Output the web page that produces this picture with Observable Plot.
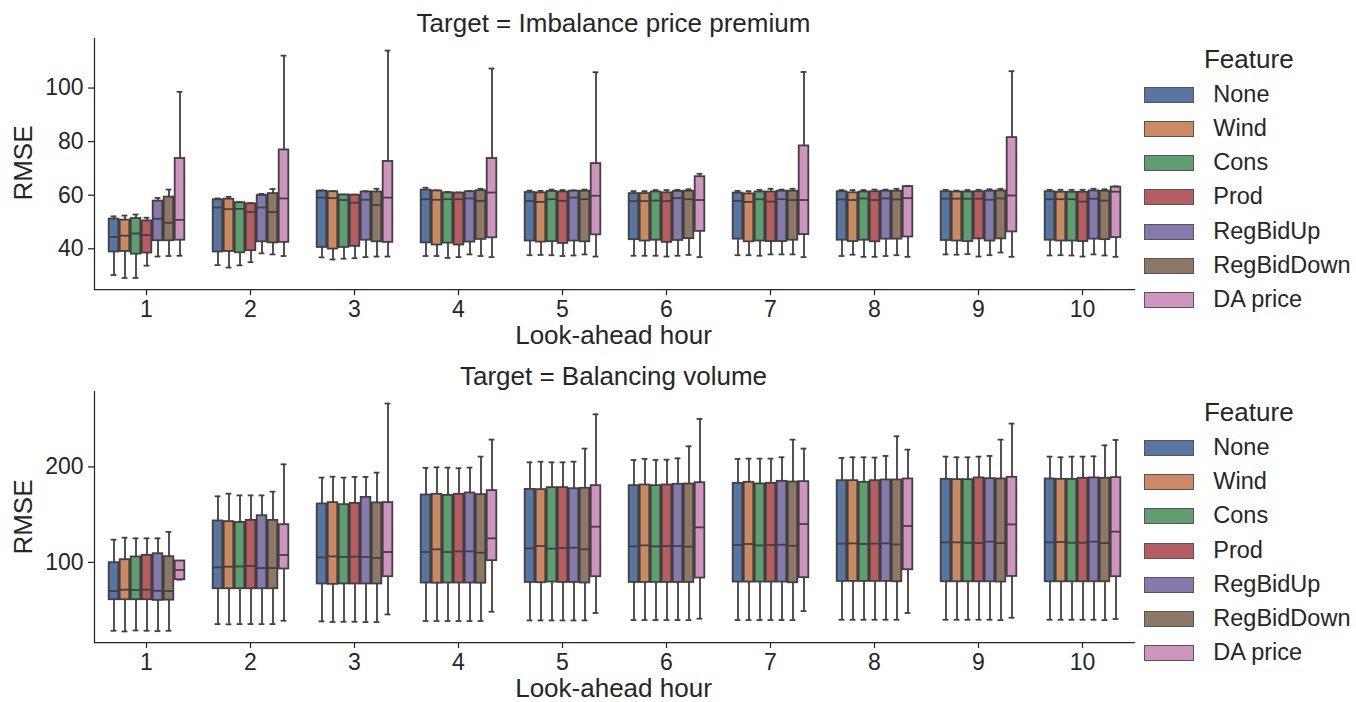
<!DOCTYPE html>
<html><head><meta charset="utf-8">
<script src="https://cdn.jsdelivr.net/npm/d3@7"></script>
<script src="https://cdn.jsdelivr.net/npm/@observablehq/plot@0.6"></script>
<style>
body{margin:0;background:#fff;font-family:"Liberation Sans",Arial,sans-serif;color:#262626;}
#root{position:relative;width:1356px;height:702px;overflow:hidden;background:#fff;}
.panel{position:absolute;left:0;width:1356px;}
.t{position:absolute;line-height:1;white-space:nowrap;transform:translate(-50%,-50%);}
.tl{position:absolute;line-height:1;white-space:nowrap;transform:translate(0,-50%);}
.sw{position:absolute;width:50px;height:16px;box-sizing:border-box;border:1px solid #555;transform:translate(0,-50%);}
</style></head>
<body><div id="root"></div>
<script>
const hours = [1,2,3,4,5,6,7,8,9,10];
const features = ["None","Wind","Cons","Prod","RegBidUp","RegBidDown","DA price"];
const colors = ["#5875A4","#CC8963","#5F9E6E","#B55D60","#857AAB","#8D7866","#D095BF"];
const panelTitles = ["Target = Imbalance price premium","Target = Balancing volume"];
const yTicksImb = [40,60,80,100];
const yTicksBal = [100,200];
const yDomainImb = [24.8,118.5];
const yDomainBal = [16.1,279];

// Imbalance price premium: rows = look-ahead hour, columns = features
const imbLo = [
 [30.2,29.1,29.1,33.7,37.1,37.3,37.4],
 [33.9,33.0,33.8,35.0,38.3,37.9,37.3],
 [36.8,36.0,36.3,36.5,36.9,37.1,37.1],
 [37.3,37.3,36.6,36.9,37.9,37.3,36.9],
 [37.6,37.7,37.6,37.3,37.5,37.9,37.1],
 [37.4,37.4,37.4,37.1,37.4,37.7,36.9],
 [37.6,37.6,37.4,37.9,37.9,37.9,36.9],
 [37.3,37.8,37.0,37.0,37.3,37.6,37.0],
 [37.9,37.8,38.0,37.1,37.6,38.6,37.0],
 [37.5,37.6,37.5,37.1,37.9,37.5,37.0]];
const imbQ1 = [
 [38.8,39.0,38.0,38.4,43.0,43.0,43.2],
 [38.8,39.0,38.5,39.3,42.6,42.2,42.4],
 [40.5,39.9,40.5,40.9,43.2,42.6,42.4],
 [42.2,41.4,42.1,41.4,42.5,43.5,44.1],
 [42.9,42.5,42.7,42.0,42.9,42.6,45.2],
 [43.4,42.9,43.2,42.4,43.1,43.8,46.5],
 [43.6,42.6,42.9,42.7,42.7,43.2,45.3],
 [43.2,42.7,43.2,42.6,43.6,43.6,44.4],
 [43.1,42.9,42.7,43.7,42.9,43.7,46.3],
 [43.2,42.9,42.9,42.7,43.6,43.4,44.2]];
const imbMed = [
 [44.4,44.9,45.7,45.1,51.2,49.7,50.8],
 [55.4,54.8,54.9,53.7,55.4,53.7,58.8],
 [59.1,58.9,58.2,57.2,58.3,56.3,59.1],
 [58.5,58.3,58.5,58.5,58.8,57.9,61.0],
 [57.8,57.5,58.5,57.9,59.1,58.5,59.8],
 [57.8,57.8,58.0,57.8,58.9,58.5,58.2],
 [57.9,57.5,58.5,57.6,58.5,58.2,58.2],
 [58.4,58.2,58.8,58.2,58.8,58.4,58.9],
 [58.7,58.7,58.7,58.7,58.3,58.8,59.9],
 [58.5,58.5,58.5,57.6,58.7,58.0,61.3]];
const imbQ3 = [
 [51.1,50.7,51.3,50.4,57.8,59.3,73.7],
 [58.3,58.5,57.2,56.8,59.9,60.6,76.9],
 [61.5,61.3,60.1,60.0,61.2,61.2,72.6],
 [61.9,61.6,60.9,60.8,61.3,61.7,73.7],
 [61.0,60.9,61.4,61.2,61.5,61.5,71.8],
 [60.6,60.6,61.2,60.9,61.4,61.5,66.9],
 [60.8,60.5,61.2,61.2,61.5,61.5,78.4],
 [61.3,60.9,61.2,61.3,61.5,61.5,63.2],
 [61.3,61.2,61.2,61.3,61.5,61.6,81.5],
 [61.3,61.1,61.1,61.1,61.6,61.5,63.0]];
const imbHi = [
 [52.1,52.4,52.8,51.6,59.0,62.1,98.6],
 [58.8,59.4,57.4,57.0,60.5,62.3,112.1],
 [61.8,61.5,60.2,60.2,61.5,62.4,114.0],
 [62.8,61.8,61.2,61.0,61.6,62.4,107.3],
 [61.7,61.6,62.1,61.9,61.8,62.1,105.9],
 [61.5,61.5,61.9,61.9,62.0,62.2,68.0],
 [61.6,61.5,62.0,62.4,62.1,62.4,106.0],
 [61.9,61.9,61.9,62.1,62.1,62.4,63.5],
 [62.0,61.7,61.9,62.0,62.2,62.4,106.3],
 [62.0,62.0,62.0,62.0,62.4,62.2,63.3]];

// Balancing volume
const balLo = [
 [28.4,27.7,28.7,28.4,28.0,28.4,81.9],
 [35.4,35.1,35.4,35.4,35.4,35.4,38.9],
 [38.2,37.6,37.8,37.8,37.5,37.5,45.5],
 [38.6,38.6,38.6,38.6,38.6,38.6,48.3],
 [39.2,39.2,39.2,39.2,39.2,39.2,47.0],
 [39.6,39.6,39.6,39.6,39.6,39.6,41.0],
 [39.6,39.6,39.6,39.6,39.6,39.6,49.0],
 [39.9,39.9,39.9,39.9,39.9,39.9,47.0],
 [39.9,39.9,39.9,39.9,39.9,39.6,42.0],
 [39.9,39.9,39.9,39.9,39.9,39.6,40.7]];
const balQ1 = [
 [60.9,60.9,60.9,60.9,60.2,60.5,81.9],
 [72.4,72.4,72.4,72.4,72.4,72.4,93.1],
 [77.4,77.0,77.4,77.4,77.4,77.4,85.0],
 [78.4,78.2,78.4,78.4,78.4,78.2,101.8],
 [79.0,78.7,79.4,79.0,79.0,78.4,85.0],
 [79.0,79.0,79.0,79.0,79.0,79.0,83.6],
 [79.4,79.4,79.4,79.4,79.4,78.7,84.0],
 [80.1,80.1,80.1,80.1,80.1,79.7,92.3],
 [79.7,79.7,79.7,79.7,79.7,79.4,85.3],
 [79.7,79.7,79.7,79.7,79.7,79.7,85.0]];
const balMed = [
 [70.0,71.4,71.1,71.4,70.3,70.0,92.0],
 [94.8,95.5,95.8,96.2,94.1,94.1,107.7],
 [105.2,106.3,105.7,106.0,105.7,104.6,110.9],
 [110.9,113.7,110.9,111.5,111.5,110.2,125.2],
 [114.7,117.2,114.4,115.1,115.4,113.7,137.4],
 [116.8,117.8,116.8,117.1,117.1,116.5,136.7],
 [118.2,119.3,117.8,118.2,118.5,117.4,140.2],
 [119.6,119.9,119.3,119.6,119.9,118.9,138.1],
 [121.0,121.0,120.6,120.3,121.7,120.3,139.8],
 [121.0,121.3,120.6,120.6,121.7,120.3,132.2]];
const balQ3 = [
 [99.7,102.8,105.7,107.4,109.1,106.0,101.5],
 [143.4,142.7,141.9,144.0,148.9,144.0,139.5],
 [161.2,162.6,160.5,161.8,168.1,162.3,162.6],
 [170.6,171.3,170.2,171.3,172.7,171.0,175.2],
 [176.5,176.2,178.3,178.3,177.2,177.6,180.4],
 [180.4,181.1,180.4,181.1,181.8,182.1,183.5],
 [182.8,183.9,182.2,182.8,184.9,184.2,184.6],
 [185.6,185.6,183.9,185.6,186.3,186.3,187.4],
 [187.0,186.7,186.7,188.5,187.7,187.4,189.1],
 [187.4,187.0,187.0,188.1,188.5,188.1,188.8]];
const balHi = [
 [123.8,125.9,125.2,125.2,125.2,131.9,101.5],
 [169.2,172.0,170.2,170.2,170.2,174.1,202.7],
 [188.8,189.8,188.8,189.5,189.5,194.0,266.4],
 [199.0,199.6,199.3,198.6,199.3,210.8,228.6],
 [204.8,205.5,204.8,204.8,205.5,219.2,255.1],
 [207.3,208.4,207.3,207.6,209.0,221.6,250.3],
 [208.4,208.7,208.7,208.7,210.1,228.6,219.2],
 [209.4,210.1,210.1,209.8,211.5,232.1,218.1],
 [210.8,210.1,210.1,210.8,211.5,228.6,245.4],
 [210.8,210.1,210.8,210.8,211.1,222.6,228.2]];

const EDGE = "#404040";
const AXIS = "#262626";
const FONT = '"Liberation Sans", Arial, sans-serif';

function buildRows(lo,q1,med,q3,hi){
  const rows = [];
  hours.forEach((h,i)=>features.forEach((f,j)=>rows.push({hour:h,feature:f,lo:lo[i][j],q1:q1[i][j],med:med[i][j],q3:q3[i][j],hi:hi[i][j]})));
  return rows;
}

function panel(rows, yDomain, yTicks){
  const sw = 1.8;
  return Plot.plot({
    width:1356, height:353,
    marginLeft:91, marginRight:220, marginTop:38, marginBottom:64,
    style:{fontFamily:FONT, color:AXIS, background:"transparent", overflow:"visible"},
    fx:{domain:hours, padding:0, label:null},
    x:{domain:features, paddingInner:0, paddingOuter:0.875, axis:null},
    y:{domain:yDomain, label:null},
    color:{domain:features, range:colors},
    marks:[
      Plot.ruleX(rows,{fx:"hour",x:"feature",y1:"lo",y2:"q1",stroke:EDGE,strokeWidth:sw}),
      Plot.ruleX(rows,{fx:"hour",x:"feature",y1:"q3",y2:"hi",stroke:EDGE,strokeWidth:sw}),
      Plot.tickY(rows,{fx:"hour",x:"feature",y:"lo",stroke:EDGE,strokeWidth:sw,insetLeft:2.6,insetRight:2.6}),
      Plot.tickY(rows,{fx:"hour",x:"feature",y:"hi",stroke:EDGE,strokeWidth:sw,insetLeft:2.6,insetRight:2.6}),
      Plot.barY(rows,{fx:"hour",x:"feature",y1:"q1",y2:"q3",fill:"feature",stroke:EDGE,strokeWidth:sw,insetLeft:0.7,insetRight:0.7}),
      Plot.tickY(rows,{fx:"hour",x:"feature",y:"med",stroke:EDGE,strokeWidth:sw,insetLeft:0.7,insetRight:0.7}),
      Plot.axisY({ticks:yTicks, tickSize:6, tickPadding:5, fontSize:23, label:null, stroke:AXIS, strokeWidth:1.25}),
      Plot.axisFx({anchor:"bottom", tickSize:6, tickPadding:5, fontSize:23, label:null, stroke:AXIS, strokeWidth:1.25}),
      Plot.frame({anchor:"left", facet:"super", stroke:AXIS, strokeWidth:1.25}),
      Plot.frame({anchor:"bottom", facet:"super", stroke:AXIS, strokeWidth:1.25})
    ]
  });
}

const root = document.getElementById("root");
const panels = [
  {rows:buildRows(imbLo,imbQ1,imbMed,imbQ3,imbHi), dom:yDomainImb, ticks:yTicksImb},
  {rows:buildRows(balLo,balQ1,balMed,balQ3,balHi), dom:yDomainBal, ticks:yTicksBal}
];
const OFF = 353.3;
panels.forEach((p,k)=>{
  const top = k*OFF;
  const div = document.createElement("div");
  div.className = "panel";
  div.style.top = top + "px";
  div.appendChild(panel(p.rows,p.dom,p.ticks));
  root.appendChild(div);
  const add = (cls, text, x, y, size) => {
    const e = document.createElement("div");
    e.className = cls; e.textContent = text;
    e.style.left = x + "px"; e.style.top = y + "px"; e.style.fontSize = size + "px";
    root.appendChild(e);
    return e;
  };
  add("t", panelTitles[k], 613.5, top+22.5, 26);
  add("t", "Look-ahead hour", 613.5, top+335, 26);
  const r = add("t", "RMSE", 23.3, top+163.2, 26);
  r.style.transform = "translate(-50%,-50%) rotate(-90deg)";
  add("t", "Feature", 1248.8, top+58.7, 26);
  features.forEach((f,i)=>{
    const cy = top + 94.5 + 34.25*i;
    const s = document.createElement("div");
    s.className = "sw"; s.style.left = "1143.5px"; s.style.top = cy + "px"; s.style.background = colors[i];
    root.appendChild(s);
    add("tl", f, 1213.3, cy, 23.5);
  });
});
</script></body></html>
